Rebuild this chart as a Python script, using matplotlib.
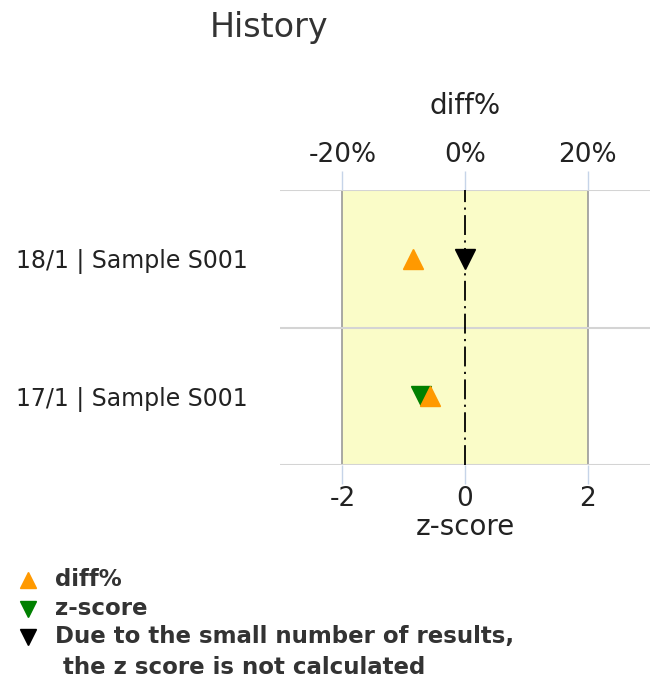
import numpy as np
import matplotlib
matplotlib.use("Agg")
import matplotlib.pyplot as plt
from matplotlib.lines import Line2D
from matplotlib.patches import Rectangle

# data
labels = ["18/1 | Sample S001", "17/1 | Sample S001"]
diff_pct = [-8.5, -5.7]          # diff% values
z_score = [np.nan, -0.72]        # z-score values (nan = not calculated)
z_missing = [0.0, np.nan]        # marker drawn at 0 when z not calculated

ORANGE = "#ff9900"
GREEN = "#008000"
TXT = "#222222"

fig = plt.figure(figsize=(6.5, 6.9), dpi=100)
ax = fig.add_axes([280/650, 225/690, 370/650, 275/690])

ypos = np.arange(len(labels)) + 0.5
ax.set_xlim(-3.02, 3.02)
ax.set_ylim(len(labels), 0)

# acceptance zone
ax.add_patch(Rectangle((-2, 0), 4, len(labels), facecolor="#fafcc8",
                       edgecolor="#999999", lw=1.2, zorder=0))
for yb in range(len(labels) + 1):
  ax.axhline(yb, color="#d4d4d4", lw=1.5, zorder=1)
ax.axvline(0, color="black", lw=1.3, dashes=(11, 3, 1.2, 3), zorder=2)

ax.plot(z_score, ypos, "v", color=GREEN, ms=14, zorder=3)
ax.plot(np.array(diff_pct)/10.0, ypos, "^", color=ORANGE, ms=14, zorder=4)
ax.plot(z_missing, ypos, "v", color="black", ms=14, zorder=4)

for s in ax.spines.values():
  s.set_visible(False)

ax.set_yticks(ypos)
ax.set_yticklabels(labels, fontsize=17, color=TXT)
ax.tick_params(axis="y", length=0, pad=23)

ax.set_xticks([-2, 0, 2])
ax.set_xticklabels(["-2", "0", "2"])
ax.tick_params(axis="x", length=14, width=1, color="#c6d4e8", labelsize=19,
               labelcolor=TXT, pad=1)
ax.set_xlabel("z-score", fontsize=20, color=TXT, labelpad=1)

top = ax.secondary_xaxis("top", functions=(lambda x: x*10, lambda x: x/10))
top.set_xticks([-20, 0, 20])
top.set_xticklabels(["-20%", "0%", "20%"])
top.tick_params(length=14, width=1, color="#c6d4e8", labelsize=19,
                labelcolor=TXT, pad=2)
top.spines["top"].set_visible(False)
top.set_xlabel("diff%", fontsize=20, color=TXT, labelpad=20)

fig.text(269/650, 1 - 28/690, "History", fontsize=24, color="#333333",
         ha="center", va="center")

# legend drawn by hand
leg_items = [("^", ORANGE, "diff%", 580),
             ("v", GREEN, "z-score", 609),
             ("v", "black", "Due to the small number of results,\n the z score is not calculated", 637)]
for mk, col, txt, ypx in leg_items:
  fig.add_artist(Line2D([28/650], [1 - ypx/690], marker=mk, color=col, ms=12,
                        transform=fig.transFigure, linestyle="none"))
  fig.text(55/650, 1 - (ypx - 12)/690, txt, fontsize=16.5, fontweight="bold",
           color="#333333", ha="left", va="top", linespacing=1.45)

fig.savefig("out.png", dpi=100)
